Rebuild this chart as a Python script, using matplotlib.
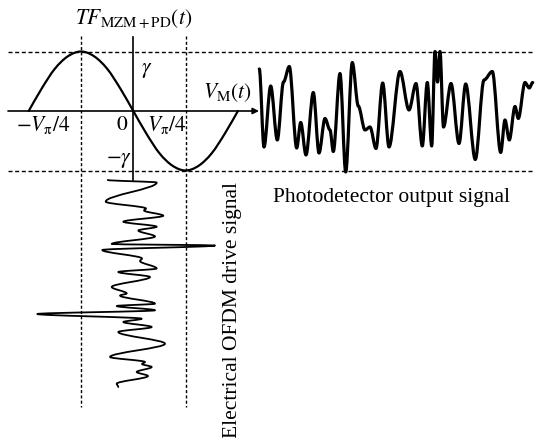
import numpy as np
import matplotlib
matplotlib.use("Agg")
import matplotlib.pyplot as plt
from matplotlib.path import Path
from matplotlib.patches import PathPatch

plt.rcParams['font.family'] = ['Liberation Serif', 'DejaVu Serif']
plt.rcParams['mathtext.fontset'] = 'stix'

# ---------------- data ----------------
# MZM+PD transfer function, x in units of V_pi/4, y in units of gamma
tf_v = [-2.0, -1.75, -1.5, -1.25, -1.0, -0.75, -0.5, -0.25, 0.0,
        0.25, 0.5, 0.75, 1.0, 1.25, 1.5, 1.75, 2.0]
tf_out = [0.0, 0.38, 0.71, 0.92, 1.0, 0.92, 0.71, 0.38, 0.0,
          -0.38, -0.71, -0.92, -1.0, -0.92, -0.71, -0.38, 0.0]

# Photodetector output signal (time in arbitrary units, amplitude in gamma units)
pd_time = [0.00, 0.47, 1.14, 1.80, 2.42, 3.00, 3.74, 4.14, 4.67, 5.40,
           5.97, 6.57, 7.07, 7.40, 8.07, 8.64, 9.30, 9.90, 10.57, 11.07,
           11.67, 12.34, 12.97, 14.07, 14.97, 15.67, 16.30, 16.80, 17.24, 17.57,
           17.82, 18.07, 18.42, 19.17, 19.97, 20.64, 21.60, 22.47, 23.30, 24.14,
           24.57, 25.00, 25.57, 25.90, 26.57, 27.00, 27.34]
pd_amp = [0.706, -0.605, 0.420, -0.487, 0.487, 0.748, -0.622, -0.193, -0.739, 0.311,
          -0.706, -0.126, -0.319, -0.681, 0.630, -1.025, 0.815, 0.084, -0.319, -0.269,
          -0.630, 0.471, -0.605, 0.664, 0.017, 0.462, -0.588, 0.479, -0.588, 1.0,
          0.487, 1.0, -0.269, 0.462, -0.546, 0.454, -0.815, 0.521, 0.664, -0.697,
          -0.151, -0.487, 0.076, -0.126, 0.479, 0.387, 0.479]

# Electrical OFDM drive signal (time downward, amplitude in V_pi/4 units)
dr_time = [0.10, 0.35, 2.27, 2.95, 3.15, 3.67, 4.27, 4.77, 5.15, 5.75,
           6.50, 6.65, 7.10, 7.95, 8.20, 8.95, 9.30, 9.80, 10.80, 11.45,
           11.65, 12.47, 12.70, 13.13, 13.50, 13.97, 14.30, 14.80, 15.30, 16.47,
           17.80, 18.30, 18.50, 18.80, 19.30, 19.70, 20.47, 20.80]
dr_amp = [-0.489, 0.447, -0.528, 0.243, 0.205, 0.574, -0.191, 0.447, 0.096, 0.415,
          -0.413, 1.562, -0.593, 0.166, 0.128, 0.447, -0.287, 0.319, -0.413, -0.126,
          -0.254, 0.415, -0.317, 0.415, -1.836, 0.161, -0.191, 0.352, -0.287, 0.606,
          -0.445, 0.224, 0.166, 0.352, 0.065, 0.281, -0.317, -0.287]

# ---------------- helpers ----------------
W, H = 535, 438
def fx(px):
    return px / W
def fy(py):
    return 1 - py / H

def hermite_path(x, y):
    """Smooth path with horizontal tangents at every sample (x = time)."""
    verts = [(x[0], y[0])]
    codes = [Path.MOVETO]
    for i in range(len(x) - 1):
        d = (x[i + 1] - x[i]) / 3.0
        verts += [(x[i] + d, y[i]), (x[i + 1] - d, y[i + 1]), (x[i + 1], y[i + 1])]
        codes += [Path.CURVE4] * 3
    return Path(verts, codes)

def hermite_path_vertical(a, t):
    """Same but time runs along the y axis."""
    verts = [(a[0], t[0])]
    codes = [Path.MOVETO]
    for i in range(len(t) - 1):
        d = (t[i + 1] - t[i]) / 3.0
        verts += [(a[i], t[i] + d), (a[i + 1], t[i + 1] - d), (a[i + 1], t[i + 1])]
        codes += [Path.CURVE4] * 3
    return Path(verts, codes)

def catmull_path(x, y):
    P = np.column_stack([x, y]).astype(float)
    n = len(P)
    verts = [tuple(P[0])]
    codes = [Path.MOVETO]
    for i in range(n - 1):
        p0 = P[i - 1] if i > 0 else P[i]
        p1, p2 = P[i], P[i + 1]
        p3 = P[i + 2] if i + 2 < n else P[i + 1]
        c1 = p1 + (p2 - p0) / 6.0
        c2 = p2 - (p3 - p1) / 6.0
        verts += [tuple(c1), tuple(c2), tuple(p2)]
        codes += [Path.CURVE4] * 3
    return Path(verts, codes)

# ---------------- figure ----------------
fig = plt.figure(figsize=(W / 100, H / 100), dpi=100)
fig.patch.set_facecolor('white')

# pixel geometry of the transfer-function frame
X0, Y0 = 133.3, 111.0   # origin
SX, SY = 52.3, 59.5     # px per V_pi/4, px per gamma

ax = fig.add_axes([0, 0, 1, 1])
ax.set_xlim(-X0 / SX, (W - X0) / SX)
ax.set_ylim((Y0 - H) / SY, Y0 / SY)
ax.axis('off')

u_left = (8 - X0) / SX
u_right = (W - X0) / SX
# dashed +-gamma lines
for lvl in (1.0, -1.0):
    ax.plot([u_left, u_right], [lvl, lvl], color='black', lw=1.0,
            ls=(0, (2.9, 1.9)), clip_on=False)
# dashed verticals at +-V_pi/4
for lvl in (-1.0, 1.0):
    ax.plot([lvl, lvl], [(Y0 - 36) / SY, (Y0 - 407) / SY], color='black', lw=1.0,
            ls=(0, (2.2, 1.6)))
# horizontal axis with arrow
ax.annotate('', xy=((259 - X0) / SX, 0), xytext=(u_left, 0),
            arrowprops=dict(arrowstyle='-|>', lw=1.2, color='black',
                            mutation_scale=9, shrinkA=0, shrinkB=0))
# vertical axis
ax.plot([0, 0], [(Y0 - 37) / SY, (Y0 - 180) / SY], color='black', lw=1.2)

# transfer function
ax.add_patch(PathPatch(catmull_path(tf_v, tf_out), fill=False, lw=1.6,
                       edgecolor='black', capstyle='round', joinstyle='round'))

# photodetector signal axes
pd_left, pd_right = 259.3, 532.7
ax_pd = fig.add_axes([fx(pd_left), 0, (pd_right - pd_left) / W, 1])
ax_pd.set_xlim(min(pd_time), max(pd_time))
ax_pd.set_ylim((Y0 - H) / SY, Y0 / SY)
ax_pd.axis('off')
ax_pd.patch.set_alpha(0)
ax_pd.add_patch(PathPatch(hermite_path(pd_time, pd_amp), fill=False, lw=2.3,
                          edgecolor='black', capstyle='round', joinstyle='round',
                          clip_on=False))

# drive signal axes
dr_top, dr_bot = 179.0, 387.0
ax_dr = fig.add_axes([0, fy(dr_bot), 1, (dr_bot - dr_top) / H])
ax_dr.set_xlim(-X0 / SX, (W - X0) / SX)
ax_dr.set_ylim(max(dr_time), 0)
ax_dr.axis('off')
ax_dr.patch.set_alpha(0)
ax_dr.add_patch(PathPatch(hermite_path_vertical(dr_amp, dr_time), fill=False, lw=1.3,
                          edgecolor='black', capstyle='round', joinstyle='round',
                          clip_on=False))

# ---------------- texts ----------------
fs = 15.5
fig.text(fx(134), fy(18), r'$TF_{\mathrm{MZM+PD}}(t)$', fontsize=fs, ha='center', va='center')
fig.text(fx(147), fy(71), r'$\gamma$', fontsize=fs, ha='center', va='center')
fig.text(fx(227), fy(93), r'$V_{\mathrm{M}}(t)$', fontsize=fs, ha='center', va='center')
fig.text(fx(43), fy(125), r'$-V_{\mathrm{\pi}}/4$', fontsize=fs, ha='center', va='center')
fig.text(fx(122.5), fy(125), r'$0$', fontsize=fs, ha='center', va='center')
fig.text(fx(167), fy(125), r'$V_{\mathrm{\pi}}/4$', fontsize=fs, ha='center', va='center')
fig.text(fx(119), fy(161), r'$-\gamma$', fontsize=fs, ha='center', va='center')
fig.text(fx(273.3), fy(201.7), 'Photodetector output signal', fontsize=fs,
         ha='left', va='baseline')
fig.text(fx(232), fy(310), 'Electrical OFDM drive signal', fontsize=fs,
         ha='center', va='center', rotation=90)

fig.savefig('out.png', dpi=100, facecolor='white')
